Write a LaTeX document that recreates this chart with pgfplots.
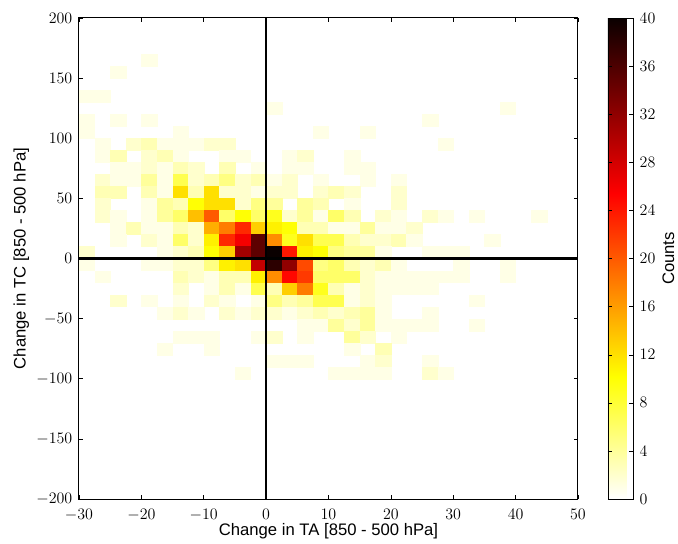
\documentclass[border=0pt]{standalone}
\usepackage{fontspec}
\setmainfont{Liberation Sans}
\usepackage{pgfplots}
\pgfplotsset{compat=1.18}
\pgfplotsset{colormap={hotr}{rgb255(0)=(255,255,255) rgb255(254)=(255,255,0) rgb255(635)=(255,0,0) rgb255(1000)=(10,0,0)}}
\begin{document}
\begin{tikzpicture}
\useasboundingbox (-59.25pt,-33pt) rectangle (449.25pt,374.25pt);
\begin{axis}[
  at={(0,0)}, anchor=south west,
  scale only axis, width=374.25pt, height=360.75pt,
  clip mode=individual,
  xmin=-30, xmax=50, ymin=-200, ymax=200,
  xtick distance=10, ytick distance=50,
  tick align=inside, major tick length=3pt,
  tick style={black, line width=0.5pt},
  axis line style={line width=0.75pt},
  tick label style={font=\fontsize{12.5}{14}\selectfont, inner ysep=0.3pt},
  label style={font=\fontsize{12.5}{14}\selectfont},
  xticklabel shift=6.9pt,
  yticklabel shift=1.5pt,
  xlabel={Change in TA [850 - 500 hPa]},
  ylabel={Change in TC [850 - 500 hPa]},
  xlabel style={yshift=1.75pt},
  ylabel style={yshift=-1.5pt},
  colormap name=hotr,
  point meta min=0, point meta max=40,
  colorbar,
  colorbar style={
    at={(1.0601,1)}, anchor=north west,
    width=18.75pt, height=360.75pt,
    ytick={0,4,...,40},
    yticklabel shift=1.5pt,
    ylabel={Counts},
    ylabel style={font=\fontsize{12.5}{14}\selectfont, yshift=1.5pt},
    tick align=inside, major tick length=3pt,
    tick style={black},
    tick label style={font=\fontsize{12.5}{14}\selectfont},
  },
]
\addplot[scatter, only marks, scatter src=explicit, mark=square*, mark size=5.8pt,
  scatter/use mapped color={draw=mapped color, fill=mapped color},
  mark options={yscale=0.77, line width=0.1pt}] coordinates {
% [160,170]
(-18.75,165)[1]
% [150,160]
(-23.75,155)[1]
% [130,140]
(-28.75,135)[1] (-26.25,135)[1]
% [120,130]
(1.25,125)[1] (38.75,125)[1]
% [110,120]
(-28.75,115)[1] (-23.75,115)[1] (-18.75,115)[1] (26.25,115)[1]
% [100,110]
(-28.75,105)[1] (-13.75,105)[1] (8.75,105)[1] (16.25,105)[1]
% [90,100]
(-26.25,95)[1] (-21.25,95)[2] (-18.75,95)[3] (-16.25,95)[1] (-13.75,95)[1] (-11.25,95)[1] (-8.75,95)[2] (-6.25,95)[2] (28.75,95)[1]
% [80,90]
(-26.25,85)[1] (-23.75,85)[3] (-18.75,85)[2] (-16.25,85)[3] (-13.75,85)[1] (-6.25,85)[1] (-3.75,85)[1] (3.75,85)[1] (6.25,85)[2] (13.75,85)[1]
% [70,80]
(-23.75,75)[1] (-21.25,75)[1] (-18.75,75)[2] (-16.25,75)[1] (-13.75,75)[3] (-11.25,75)[2] (-6.25,75)[3] (-1.25,75)[1] (3.75,75)[1] (6.25,75)[1] (13.75,75)[1] (16.25,75)[1]
% [60,70]
(-26.25,65)[2] (-23.75,65)[1] (-21.25,65)[1] (-18.75,65)[4] (-16.25,65)[1] (-13.75,65)[7] (-11.25,65)[2] (-8.75,65)[3] (-6.25,65)[5] (-3.75,65)[2] (-1.25,65)[3] (1.25,65)[1] (3.75,65)[2] (8.75,65)[1] (16.25,65)[1] (21.25,65)[1]
% [50,60]
(-26.25,55)[3] (-23.75,55)[3] (-18.75,55)[3] (-16.25,55)[1] (-13.75,55)[12] (-11.25,55)[3] (-8.75,55)[12] (-6.25,55)[2] (-3.75,55)[2] (-1.25,55)[1] (1.25,55)[2] (3.75,55)[2] (8.75,55)[2] (11.25,55)[3] (13.75,55)[2] (21.25,55)[2]
% [40,50]
(-26.25,45)[2] (-18.75,45)[1] (-16.25,45)[4] (-13.75,45)[3] (-11.25,45)[10] (-8.75,45)[12] (-6.25,45)[12] (-3.75,45)[2] (-1.25,45)[5] (1.25,45)[4] (6.25,45)[4] (8.75,45)[3] (13.75,45)[1] (21.25,45)[2]
% [30,40]
(-26.25,35)[2] (-23.75,35)[1] (-18.75,35)[1] (-16.25,35)[4] (-13.75,35)[6] (-11.25,35)[14] (-8.75,35)[20] (-6.25,35)[6] (-3.75,35)[10] (-1.25,35)[6] (1.25,35)[9] (3.75,35)[2] (6.25,35)[4] (8.75,35)[1] (11.25,35)[6] (13.75,35)[3] (18.75,35)[2] (21.25,35)[1] (26.25,35)[2] (28.75,35)[1] (33.75,35)[1] (43.75,35)[1]
% [20,30]
(-23.75,25)[1] (-21.25,25)[3] (-18.75,25)[1] (-16.25,25)[1] (-13.75,25)[3] (-11.25,25)[2] (-8.75,25)[15] (-6.25,25)[18] (-3.75,25)[23] (-1.25,25)[13] (1.25,25)[11] (3.75,25)[10] (6.25,25)[3] (8.75,25)[3] (11.25,25)[1] (13.75,25)[1] (16.25,25)[4] (18.75,25)[1] (21.25,25)[1] (23.75,25)[2]
% [10,20]
(-23.75,15)[1] (-18.75,15)[2] (-16.25,15)[1] (-13.75,15)[6] (-11.25,15)[2] (-8.75,15)[11] (-6.25,15)[23] (-3.75,15)[26] (-1.25,15)[35] (1.25,15)[17] (3.75,15)[9] (6.25,15)[12] (8.75,15)[7] (11.25,15)[7] (13.75,15)[3] (16.25,15)[2] (18.75,15)[2] (21.25,15)[3] (23.75,15)[1] (36.25,15)[1]
% [0,10]
(-28.75,5)[2] (-16.25,5)[1] (-13.75,5)[2] (-11.25,5)[3] (-8.75,5)[10] (-6.25,5)[13] (-3.75,5)[31] (-1.25,5)[35] (1.25,5)[40] (3.75,5)[24] (6.25,5)[11] (8.75,5)[10] (11.25,5)[5] (13.75,5)[4] (16.25,5)[4] (18.75,5)[1] (26.25,5)[1] (28.75,5)[1] (31.25,5)[1]
% [-10,0]
(-28.75,-5)[1] (-18.75,-5)[1] (-16.25,-5)[1] (-13.75,-5)[2] (-11.25,-5)[2] (-8.75,-5)[5] (-6.25,-5)[11] (-3.75,-5)[12] (-1.25,-5)[29] (1.25,-5)[38] (3.75,-5)[32] (6.25,-5)[21] (8.75,-5)[5] (11.25,-5)[6] (13.75,-5)[3] (16.25,-5)[2] (18.75,-5)[3] (21.25,-5)[1] (31.25,-5)[1] (38.75,-5)[1]
% [-20,-10]
(-26.25,-15)[1] (-13.75,-15)[3] (-11.25,-15)[2] (-8.75,-15)[1] (-6.25,-15)[3] (-3.75,-15)[3] (-1.25,-15)[11] (1.25,-15)[17] (3.75,-15)[25] (6.25,-15)[22] (8.75,-15)[6] (11.25,-15)[6] (13.75,-15)[6] (16.25,-15)[2] (18.75,-15)[1] (21.25,-15)[1] (23.75,-15)[1] (26.25,-15)[1] (28.75,-15)[1] (31.25,-15)[1] (38.75,-15)[1]
% [-30,-20]
(-13.75,-25)[2] (-8.75,-25)[1] (-6.25,-25)[3] (-3.75,-25)[1] (-1.25,-25)[7] (1.25,-25)[3] (3.75,-25)[13] (6.25,-25)[18] (8.75,-25)[9] (11.25,-25)[3] (13.75,-25)[1] (16.25,-25)[2] (18.75,-25)[1] (21.25,-25)[1] (23.75,-25)[1] (26.25,-25)[1]
% [-40,-30]
(-23.75,-35)[2] (-18.75,-35)[1] (-13.75,-35)[1] (-8.75,-35)[2] (-6.25,-35)[1] (-1.25,-35)[1] (1.25,-35)[5] (3.75,-35)[3] (6.25,-35)[4] (8.75,-35)[7] (11.25,-35)[7] (13.75,-35)[1] (16.25,-35)[2] (18.75,-35)[1] (33.75,-35)[1]
% [-50,-40]
(-16.25,-45)[1] (-13.75,-45)[2] (-11.25,-45)[1] (-6.25,-45)[2] (-3.75,-45)[1] (-1.25,-45)[2] (1.25,-45)[2] (3.75,-45)[1] (6.25,-45)[2] (8.75,-45)[3] (11.25,-45)[2] (13.75,-45)[3] (16.25,-45)[4] (18.75,-45)[1] (26.25,-45)[1]
% [-60,-50]
(6.25,-55)[1] (8.75,-55)[1] (11.25,-55)[4] (13.75,-55)[2] (16.25,-55)[4] (18.75,-55)[1] (21.25,-55)[1] (23.75,-55)[1] (26.25,-55)[1] (33.75,-55)[1]
% [-70,-60]
(-13.75,-65)[1] (-11.25,-65)[1] (-8.75,-65)[1] (-1.25,-65)[1] (1.25,-65)[2] (6.25,-65)[1] (13.75,-65)[4] (16.25,-65)[2] (21.25,-65)[1]
% [-80,-70]
(-16.25,-75)[1] (-8.75,-75)[1] (13.75,-75)[1] (18.75,-75)[3]
% [-90,-80]
(1.25,-85)[1] (3.75,-85)[1] (6.25,-85)[1] (16.25,-85)[1] (18.75,-85)[2] (26.25,-85)[1]
% [-100,-90]
(-3.75,-95)[1] (11.25,-95)[1] (13.75,-95)[1] (16.25,-95)[1] (18.75,-95)[1] (26.25,-95)[2] (28.75,-95)[1]
};
\addplot[black, line width=1.9pt] coordinates {(-30,0) (50,0)};
\addplot[black, line width=1.9pt] coordinates {(0,-200) (0,200)};
\end{axis}
\end{tikzpicture}
\end{document}
